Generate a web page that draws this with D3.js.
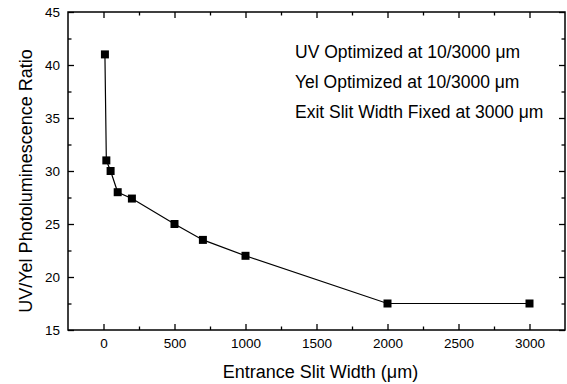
<!DOCTYPE html>
<html>
<head>
<meta charset="utf-8">
<script src="https://cdn.jsdelivr.net/npm/d3@7"></script>
<style>
  body { margin: 0; background: #fff; }
  svg { font-family: "Liberation Sans", Arial, sans-serif; }
</style>
</head>
<body>
<div id="chart"></div>
<script>
// data
let slitWidth = [10, 20, 50, 100, 200, 500, 700, 1000, 2000, 3000]
let ratio = [41, 31, 30, 28, 27.4, 25, 23.5, 22, 17.5, 17.5]
let xTicks = [0, 500, 1000, 1500, 2000, 2500, 3000]
let xMinor = [250, 750, 1250, 1750, 2250, 2750]
let yTicks = [15, 20, 25, 30, 35, 40, 45]
let yMinor = [17.5, 22.5, 27.5, 32.5, 37.5, 42.5]
let notes = ["UV Optimized at 10/3000 \u03bcm", "Yel Optimized at 10/3000 \u03bcm", "Exit Slit Width Fixed at 3000 \u03bcm"]

let margin = { top: 12, right: 2, bottom: 54, left: 68 }
let width = 567 - margin.left - margin.right
let height = 384 - margin.top - margin.bottom

let svg = d3.select("#chart")
    .append("svg")
    .attr("width", 567)
    .attr("height", 384)
    .append("g")
    .attr("transform", "translate(" + margin.left + "," + margin.top + ")")

let xScale = d3.scaleLinear().domain([-250, 3250]).range([0, width])
let yScale = d3.scaleLinear().domain([15, 45]).range([height, 0])

// axes, ticks pointing inward
function styleAxis(g) {
    g.select(".domain").remove()
    g.selectAll(".tick line").attr("stroke", "#000").attr("stroke-width", 1.3)
    g.selectAll("text").style("font-size", "13.5px").attr("fill", "#000")
}

svg.append("g")
    .attr("transform", "translate(0," + height + ")")
    .call(d3.axisBottom(xScale).tickValues(xTicks).tickSize(-6).tickPadding(8).tickFormat(d3.format("d")))
    .call(styleAxis)
svg.append("g")
    .attr("transform", "translate(0," + height + ")")
    .call(d3.axisBottom(xScale).tickValues(xMinor).tickSize(-3.5).tickFormat(""))
    .call(styleAxis)
svg.append("g")
    .call(d3.axisTop(xScale).tickValues(xTicks).tickSize(-6).tickFormat(""))
    .call(styleAxis)
svg.append("g")
    .call(d3.axisTop(xScale).tickValues(xMinor).tickSize(-3.5).tickFormat(""))
    .call(styleAxis)

svg.append("g")
    .call(d3.axisLeft(yScale).tickValues(yTicks).tickSize(-6).tickPadding(8).tickFormat(d3.format("d")))
    .call(styleAxis)
svg.append("g")
    .call(d3.axisLeft(yScale).tickValues(yMinor).tickSize(-3.5).tickFormat(""))
    .call(styleAxis)
svg.append("g")
    .attr("transform", "translate(" + width + ",0)")
    .call(d3.axisRight(yScale).tickValues(yTicks).tickSize(-6).tickFormat(""))
    .call(styleAxis)
svg.append("g")
    .attr("transform", "translate(" + width + ",0)")
    .call(d3.axisRight(yScale).tickValues(yMinor).tickSize(-3.5).tickFormat(""))
    .call(styleAxis)

svg.append("rect")
    .attr("width", width)
    .attr("height", height)
    .attr("fill", "none")
    .attr("stroke", "#000")
    .attr("stroke-width", 1.5)

let points = slitWidth.map((d, i) => ({ x: d, y: ratio[i] }))

svg.append("path")
    .datum(points)
    .attr("fill", "none")
    .attr("stroke", "#000")
    .attr("stroke-width", 1.2)
    .attr("d", d3.line().x(d => xScale(d.x)).y(d => yScale(d.y)))

svg.append("g")
    .selectAll("rect")
    .data(points)
    .enter()
    .append("rect")
    .attr("x", d => xScale(d.x) - 4)
    .attr("y", d => yScale(d.y) - 4)
    .attr("width", 8)
    .attr("height", 8)
    .attr("fill", "#000")

svg.append("g")
    .selectAll("text")
    .data(notes)
    .enter()
    .append("text")
    .attr("x", 227)
    .attr("y", (d, i) => 46 + i * 30)
    .style("font-size", "17.5px")
    .text(d => d)

svg.append("text")
    .attr("x", width / 2 + 4)
    .attr("y", height + 48)
    .attr("text-anchor", "middle")
    .style("font-size", "18px")
    .text("Entrance Slit Width (\u03bcm)")

svg.append("text")
    .attr("transform", "translate(-36," + 169 + ") rotate(-90)")
    .attr("text-anchor", "middle")
    .style("font-size", "18px")
    .text("UV/Yel Photoluminescence Ratio")
</script>
</body>
</html>
